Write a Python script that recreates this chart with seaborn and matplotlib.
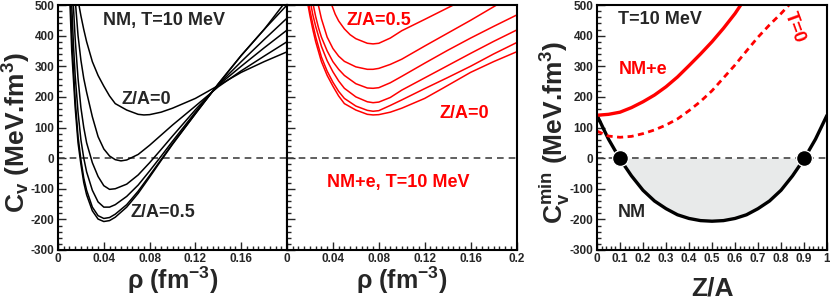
import numpy as np
import pandas as pd
import seaborn as sns
import matplotlib.pyplot as plt
from matplotlib.ticker import MultipleLocator, FixedLocator

# ---- left panel: NM, T=10 MeV, Cv vs rho for Z/A = 0 ... 0.5 (black)
za_labels = ["0", "0.1", "0.2", "0.3", "0.4", "0.5"]
rho_nm = [
    [0.0183, 0.02, 0.0225, 0.025, 0.03, 0.035, 0.04, 0.045, 0.05, 0.06, 0.07, 0.075, 0.08, 0.09, 0.1, 0.12, 0.1357, 0.16, 0.18, 0.2],
    [0.0154, 0.0175, 0.02, 0.0225, 0.025, 0.03, 0.035, 0.04, 0.045, 0.05, 0.055, 0.06, 0.07, 0.08, 0.09, 0.1, 0.12, 0.14, 0.16, 0.18, 0.2],
    [0.0134, 0.015, 0.0175, 0.02, 0.0225, 0.025, 0.03, 0.035, 0.04, 0.045, 0.05, 0.06, 0.07, 0.08, 0.09, 0.1, 0.12, 0.14, 0.16, 0.18, 0.2],
    [0.012, 0.0135, 0.015, 0.0175, 0.02, 0.0225, 0.025, 0.03, 0.035, 0.04, 0.045, 0.05, 0.06, 0.07, 0.08, 0.09, 0.1, 0.12, 0.14, 0.16, 0.18, 0.2],
    [0.011, 0.0125, 0.015, 0.0175, 0.02, 0.0225, 0.025, 0.03, 0.035, 0.04, 0.045, 0.05, 0.06, 0.07, 0.08, 0.09, 0.1, 0.12, 0.14, 0.16, 0.18, 0.2],
    [0.0105, 0.012, 0.015, 0.0175, 0.02, 0.0225, 0.025, 0.03, 0.035, 0.04, 0.045, 0.05, 0.06, 0.07, 0.08, 0.09, 0.1, 0.12, 0.14, 0.16, 0.18, 0.1965],
]
cv_nm = [
    [500, 465, 420, 380, 315, 270, 235, 203, 178, 157, 143, 141, 142, 150, 163, 195, 228, 280, 315, 347],
    [500, 400, 320, 260, 215, 135, 70, 30, 7, -5, -9, -6, 12, 42, 75, 108, 170, 233, 285, 333, 380],
    [500, 390, 260, 165, 100, 50, -15, -60, -90, -102, -100, -85, -55, -15, 28, 72, 158, 238, 300, 360, 418],
    [500, 370, 270, 150, 60, 0, -45, -105, -143, -160, -160, -152, -125, -88, -42, 6, 55, 150, 240, 315, 387, 457],
    [500, 360, 190, 70, -5, -65, -105, -160, -188, -197, -194, -183, -152, -108, -57, -5, 47, 145, 242, 335, 420, 500],
    [500, 350, 165, 50, -20, -80, -120, -172, -199, -207, -204, -193, -160, -115, -62, -8, 45, 145, 243, 335, 420, 500],
]

# ---- middle panel: NM+e, T=10 MeV (red)
rho_e = [
    rho_nm[0],
    [0.0192, 0.02, 0.0225, 0.025, 0.03, 0.035, 0.04, 0.045, 0.05, 0.06, 0.07, 0.075, 0.08, 0.09, 0.1, 0.12, 0.14, 0.16, 0.18, 0.2],
    [0.0209, 0.0225, 0.025, 0.03, 0.035, 0.04, 0.045, 0.05, 0.06, 0.07, 0.075, 0.08, 0.09, 0.1, 0.12, 0.14, 0.16, 0.18, 0.2],
    [0.0229, 0.025, 0.0275, 0.03, 0.035, 0.04, 0.045, 0.05, 0.06, 0.07, 0.075, 0.08, 0.09, 0.1, 0.12, 0.14, 0.16, 0.18, 0.2],
    [0.0273, 0.03, 0.035, 0.04, 0.045, 0.05, 0.06, 0.07, 0.075, 0.08, 0.09, 0.1, 0.12, 0.14, 0.16, 0.1827],
    [0.039, 0.042, 0.045, 0.05, 0.055, 0.06, 0.07, 0.075, 0.08, 0.09, 0.1, 0.12, 0.145],
]
cv_e = [
    cv_nm[0],
    [500, 482, 437, 396, 330, 284, 248, 218, 195, 170, 156, 153, 155, 172, 190, 227, 263, 300, 340, 377],
    [500, 468, 430, 365, 318, 282, 252, 228, 200, 184, 181, 183, 198, 222, 262, 302, 342, 381, 418],
    [500, 462, 425, 395, 350, 315, 290, 270, 243, 229, 228, 230, 246, 267, 310, 352, 392, 430, 467],
    [500, 455, 395, 358, 333, 316, 298, 290, 290, 293, 306, 323, 366, 408, 450, 500],
    [500, 470, 448, 422, 403, 390, 375, 373, 375, 392, 416, 453, 500],
]

# ---- right panel: minimum Cv vs Z/A
za_min = [0, 0.05, 0.1, 0.15, 0.2, 0.25, 0.3, 0.35, 0.4, 0.45, 0.5, 0.55, 0.6, 0.65, 0.7, 0.75, 0.8, 0.85, 0.9, 0.95, 1.0]
cvmin_nm = [140, 62, -3, -58, -105, -140, -165, -185, -197, -204, -206, -204, -197, -185, -165, -140, -105, -58, -3, 62, 140]
za_min_e = [0, 0.05, 0.1, 0.15, 0.2, 0.25, 0.3, 0.35, 0.4, 0.45, 0.5, 0.55, 0.6, 0.625]
cvmin_e = [140, 143, 150, 165, 184, 206, 233, 265, 302, 340, 380, 424, 472, 500]
za_min_t0 = [0, 0.05, 0.1, 0.15, 0.2, 0.25, 0.3, 0.35, 0.4, 0.45, 0.5, 0.55, 0.6, 0.65, 0.7, 0.75, 0.8, 0.835]
cvmin_t0 = [88, 72, 68, 71, 80, 92, 108, 128, 155, 185, 220, 262, 304, 350, 395, 435, 472, 500]
za_spinodal = [0.1, 0.9]
cv_spinodal = [0, 0]

rho_ticks_left = [0, 0.04, 0.08, 0.12, 0.16]
rho_labels_left = ["0", "0.04", "0.08", "0.12", "0.16"]
rho_ticks_mid = [0, 0.04, 0.08, 0.12, 0.16, 0.2]
rho_labels_mid = ["0", "0.04", "0.08", "0.12", "0.16", "0.2"]
za_ticks = [0, 0.1, 0.2, 0.3, 0.4, 0.5, 0.6, 0.7, 0.8, 0.9, 1.0]
za_tick_labels = ["0", "0.1", "0.2", "0.3", "0.4", "0.5", "0.6", "0.7", "0.8", "0.9", "1"]
cv_ticks = [-300, -200, -100, 0, 100, 200, 300, 400, 500]

sns.set_style("ticks")
plt.rcParams["font.family"] = ["Liberation Sans", "DejaVu Sans"]
plt.rcParams["font.weight"] = "bold"
plt.rcParams["axes.labelweight"] = "bold"
plt.rcParams["mathtext.fontset"] = "custom"
plt.rcParams["mathtext.rm"] = "Liberation Sans:bold"
plt.rcParams["mathtext.bf"] = "Liberation Sans:bold"
plt.rcParams["mathtext.it"] = "Liberation Sans:bold"
plt.rcParams["mathtext.default"] = "rm"


def long_frame(rhos, cvs):
    return pd.concat([pd.DataFrame({"rho": r, "cv": c, "za": z})
                      for r, c, z in zip(rhos, cvs, za_labels)], ignore_index=True)


def style_axis(ax, xminor):
    ax.set_ylim(-300, 500)
    ax.yaxis.set_major_locator(FixedLocator(cv_ticks))
    ax.yaxis.set_minor_locator(MultipleLocator(20))
    ax.xaxis.set_minor_locator(MultipleLocator(xminor))
    ax.tick_params(which="both", direction="in", top=False, right=False,
                   labelsize=8.5, pad=2.5, width=1)
    ax.tick_params(which="major", length=6)
    ax.tick_params(which="minor", length=3)
    for s in ax.spines.values():
        s.set_linewidth(1.5)
        s.set_color("black")
    ax.axhline(0, color="#444444", ls=(0, (4, 3)), lw=1.2, zorder=1)


fig = plt.figure(figsize=(8.3, 3.06), dpi=100)
y0, h = 56 / 306, 245 / 306
ax1 = fig.add_axes([58 / 830, y0, 229 / 830, h])
ax2 = fig.add_axes([287 / 830, y0, 229.5 / 830, h])
ax3 = fig.add_axes([597 / 830, y0, 230 / 830, h])

# left panel
sns.lineplot(data=long_frame(rho_nm, cv_nm), x="rho", y="cv", hue="za",
             palette={z: "black" for z in za_labels}, estimator=None, sort=False,
             legend=False, lw=1.1, ax=ax1)
ax1.set_xlim(0, 0.2)
style_axis(ax1, 0.005)
ax1.set_xticks(rho_ticks_left, rho_labels_left)
ax1.set_yticklabels([str(t) for t in cv_ticks])
ax1.set_xlabel(r"$\rho$ (fm$^{-3}$)", fontsize=18)
ax1.set_ylabel(r"C$_{v}$ (MeV.fm$^{3}$)", fontsize=19)
ax1.xaxis.set_label_coords(0.5, -0.06)
ax1.yaxis.set_label_coords(-0.11, 0.48)
ax1.text(0.0925, 448, "NM, T=10 MeV", fontsize=13, ha="center", va="center")
ax1.text(0.077, 193, "Z/A=0", fontsize=13, ha="center", va="center")
ax1.text(0.0915, -176, "Z/A=0.5", fontsize=13, ha="center", va="center")

# middle panel
sns.lineplot(data=long_frame(rho_e, cv_e), x="rho", y="cv", hue="za",
             palette={z: "red" for z in za_labels}, estimator=None, sort=False,
             legend=False, lw=1.1, ax=ax2)
ax2.set_xlim(0, 0.2)
style_axis(ax2, 0.005)
ax2.set_xticks(rho_ticks_mid, rho_labels_mid)
ax2.set_yticklabels([])
ax2.set_xlabel(r"$\rho$ (fm$^{-3}$)", fontsize=18)
ax2.set_ylabel("")
ax2.xaxis.set_label_coords(0.5, -0.06)
ax2.text(0.080, 448, "Z/A=0.5", fontsize=13, ha="center", va="center", color="red")
ax2.text(0.1545, 147, "Z/A=0", fontsize=13, ha="center", va="center", color="red")
ax2.text(0.097, -81, "NM+e, T=10 MeV", fontsize=13, ha="center", va="center", color="red")

# right panel
ax3.fill_between(za_min, cvmin_nm, 0, where=np.array(cvmin_nm) < 0, interpolate=True,
                 color="#e8eaea", lw=0, zorder=0)
sns.lineplot(x=za_min, y=cvmin_nm, color="black", lw=2.4, ax=ax3)
sns.lineplot(x=za_min_e, y=cvmin_e, color="red", lw=2.4, ax=ax3)
sns.lineplot(x=za_min_t0, y=cvmin_t0, color="red", lw=2.0, ls=(0, (2.2, 1.6)), ax=ax3)
sns.scatterplot(x=za_spinodal, y=cv_spinodal, color="black", s=130, ax=ax3, zorder=5)
ax3.set_xlim(0, 1)
style_axis(ax3, 0.02)
ax3.set_xticks(za_ticks, za_tick_labels)
ax3.set_yticklabels([str(t) for t in cv_ticks])
ax3.set_xlabel("Z/A", fontsize=19)
ax3.set_ylabel(r"C$_{v}^{min}$ (MeV.fm$^{3}$)", fontsize=19)
ax3.xaxis.set_label_coords(0.5, -0.11)
ax3.yaxis.set_label_coords(-0.11, 0.48)
ax3.text(0.09, 454, "T=10 MeV", fontsize=13, ha="left", va="center")
ax3.text(0.2, 291, "NM+e", fontsize=13, ha="center", va="center", color="red")
ax3.text(0.857, 428, "T=0", fontsize=13, ha="center", va="center", color="red", rotation=-70)
ax3.text(0.152, -176, "NM", fontsize=13, ha="center", va="center")

fig.savefig("out.png", dpi=100)
